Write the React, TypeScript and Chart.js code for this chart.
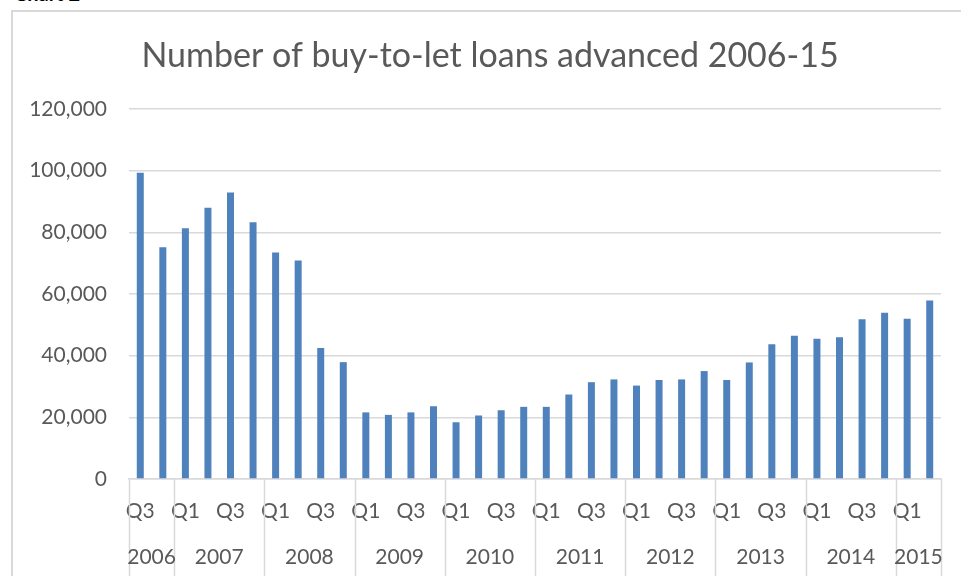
import React, { useEffect, useRef } from "react";
import { Chart, registerables } from "chart.js";

Chart.register(...registerables);

const quarters = [
  "Q3", "Q4",
  "Q1", "Q2", "Q3", "Q4",
  "Q1", "Q2", "Q3", "Q4",
  "Q1", "Q2", "Q3", "Q4",
  "Q1", "Q2", "Q3", "Q4",
  "Q1", "Q2", "Q3", "Q4",
  "Q1", "Q2", "Q3", "Q4",
  "Q1", "Q2", "Q3", "Q4",
  "Q1", "Q2", "Q3", "Q4",
  "Q1", "Q2",
];
const years = ["2006", "2007", "2008", "2009", "2010", "2011", "2012", "2013", "2014", "2015"];
const quartersPerYear = [2, 4, 4, 4, 4, 4, 4, 4, 4, 2];
const loans = [
  99300, 75200,
  81300, 88000, 92900, 83300,
  73500, 70900, 42500, 37900,
  21600, 20800, 21600, 23600,
  18400, 20600, 22300, 23400,
  23400, 27400, 31400, 32300,
  30300, 32100, 32300, 35000,
  32100, 37800, 43700, 46500,
  45500, 46000, 51800, 53900,
  52000, 57900,
];
const yTicks = [0, 20000, 40000, 60000, 80000, 100000, 120000];
const titleText = "Number of buy-to-let loans advanced 2006-15";

const FONT = "Lato, 'Open Sans', sans-serif";
const TEXT = "#595959";
const LINE = "#d9d9d9";

const yearAxisPlugin = {
  id: "yearAxis",
  afterDraw(chart: any) {
    const { ctx, chartArea, scales } = chart;
    const x = scales.x;
    const bottom = chart.height;
    const half = (x.getPixelForValue(1) - x.getPixelForValue(0)) / 2;
    ctx.save();
    ctx.strokeStyle = LINE;
    ctx.lineWidth = 1.5;
    let idx = 0;
    const bounds: number[] = [x.getPixelForValue(0) - half];
    quartersPerYear.forEach((n) => {
      idx += n;
      bounds.push(x.getPixelForValue(idx - 1) + half);
    });
    bounds.forEach((b) => {
      ctx.beginPath();
      ctx.moveTo(Math.round(b) + 0.5, chartArea.bottom);
      ctx.lineTo(Math.round(b) + 0.5, bottom);
      ctx.stroke();
    });
    ctx.fillStyle = TEXT;
    ctx.font = `21px ${FONT}`;
    ctx.textAlign = "center";
    ctx.textBaseline = "middle";
    years.forEach((yr, i) => {
      const cx = (bounds[i] + bounds[i + 1]) / 2;
      ctx.fillText(yr, cx, chartArea.bottom + 78);
    });
    ctx.restore();
  },
};

export default function App() {
  const ref = useRef<HTMLCanvasElement | null>(null);
  useEffect(() => {
    if (!ref.current) return;
    const chart = new Chart(ref.current, {
      type: "bar",
      data: {
        labels: quarters,
        datasets: [
          {
            data: loans,
            backgroundColor: "#4f81bd",
            borderWidth: 0,
            categoryPercentage: 1,
            barPercentage: 0.31,
          },
        ],
      },
      options: {
        responsive: false,
        animation: false,
        devicePixelRatio: 1,
        layout: { padding: { left: 6, right: 0, top: 0, bottom: 0 } },
        plugins: {
          legend: { display: false },
          tooltip: { enabled: false },
          title: {
            display: true,
            text: titleText,
            color: TEXT,
            font: { family: FONT, size: 34, weight: "normal", lineHeight: 1.2 },
            padding: { top: 24, bottom: 32.2 },
          },
        },
        scales: {
          x: {
            grid: { display: false, drawTicks: false },
            border: { display: true, color: LINE, width: 1.5 },
            ticks: {
              autoSkip: false,
              maxRotation: 0,
              minRotation: 0,
              color: TEXT,
              padding: 20,
              font: { family: FONT, size: 21 },
              callback: (_v: any, i: number) =>
                quarters[i] === "Q1" || quarters[i] === "Q3" ? quarters[i] : "",
            },
            afterFit: (s: any) => {
              s.height = 97;
            },
          },
          y: {
            min: 0,
            max: 120000,
            afterBuildTicks: (s: any) => {
              s.ticks = yTicks.map((v) => ({ value: v }));
            },
            grid: { color: LINE, lineWidth: 1.5, drawTicks: false },
            border: { display: false },
            ticks: {
              color: TEXT,
              padding: 22,
              font: { family: FONT, size: 21 },
              callback: (v: any) => Number(v).toLocaleString("en-US"),
            },
            afterFit: (s: any) => {
              s.width = 110;
            },
          },
          y2: {
            position: "right",
            display: true,
            grid: { display: false, drawTicks: false },
            border: { display: false },
            ticks: { display: false },
            afterFit: (s: any) => {
              s.width = 20;
            },
          },
        },
      },
      plugins: [yearAxisPlugin],
    } as any);
    return () => chart.destroy();
  }, []);

  return (
    <div
      style={{
        position: "fixed",
        left: 0,
        top: 0,
        width: 961,
        height: 576,
        overflow: "hidden",
        background: "#fff",
      }}
    >
      <div
        style={{
          position: "absolute",
          left: 14,
          top: -19,
          fontFamily: "Lato, sans-serif",
          fontWeight: "bold",
          fontSize: 20,
          color: "#000",
          whiteSpace: "nowrap",
        }}
      >
        Chart 2
      </div>
      <div
        style={{
          position: "absolute",
          left: 11,
          top: 10,
          width: 1000,
          height: 700,
          borderLeft: `2px solid ${LINE}`,
          borderTop: `2px solid ${LINE}`,
        }}
      />
      <canvas
        ref={ref}
        width={948}
        height={564}
        style={{ position: "absolute", left: 13, top: 12, width: 948, height: 564 }}
      />
    </div>
  );
}
